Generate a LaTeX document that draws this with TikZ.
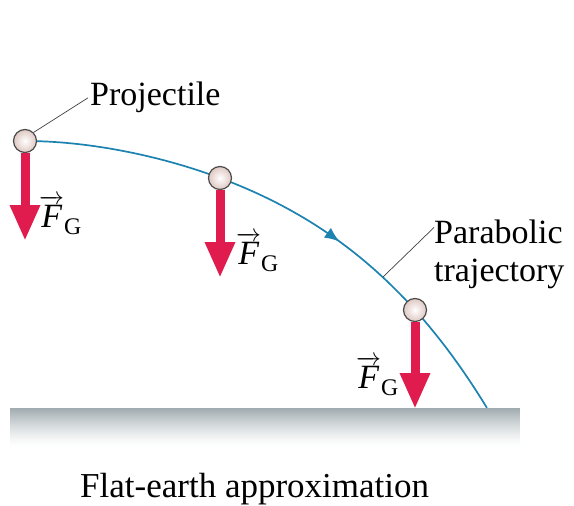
\documentclass[tikz,border=0pt]{standalone}
\usepackage{amsmath}
\usepackage{fontspec}
\setmainfont{Liberation Serif}
\usepackage{tikz}
\usetikzlibrary{arrows.meta}
\usetikzlibrary{positioning}
\usetikzlibrary{backgrounds}
\usetikzlibrary{decorations.markings}
\definecolor{azul}{RGB}{28,130,175}
\definecolor{vermelho}{RGB}{224,28,78}
\definecolor{bege}{RGB}{222,200,194}
\definecolor{chao}{RGB}{160,171,175}
\tikzset{
  bola/.style={circle, draw=black!70, line width=1.2pt, inner sep=0pt, minimum size=23pt, inner color=white, outer color=bege},
  forca/.style={draw=vermelho, line width=9pt, -{Triangle[length=36pt, width=28pt]}},
  rotulo/.style={inner sep=0pt, font=\fontsize{34}{38}\selectfont},
  guia/.style={draw=black!75, line width=0.7pt},
}
\newcommand{\FG}{$\overrightarrow{\textit{F}}_{\text{G}}$}

\begin{document}
\begin{tikzpicture}[x=1pt, y=-1pt]
  \useasboundingbox (0,0) rectangle (574,506);
  % chao (faixas em degrade)
  \foreach \i in {0,...,39} {
    \pgfmathsetmacro{\c}{100*(1-\i/39)^1.4}
    \fill[chao!\c!white] (10,408+\i) rectangle (520,409.4+\i);
  }
  \node[rotulo, font=\fontsize{35}{40}\selectfont, anchor=base west] (flat) at (80,497) {Flat-earth approximation};
  % projeteis
  \node[bola] (b1) at (25,141) {};
  \node[bola] (b2) at (220,178) {};
  \node[bola] (b3) at (415,310) {};
  \coordinate (p1) at (25,241);
  \coordinate (p2) at (220,278);
  \coordinate (p3) at (415,409);
  \draw[forca] (b1.south) -- (p1);
  \draw[forca] (b2.south) -- (p2);
  \draw[forca] (b3.south) -- (p3);
  \node[rotulo, anchor=base west] (f1) at (39,227) {\FG};
  \node[rotulo, anchor=base west] (f2) at (236,264) {\FG};
  \node[rotulo, anchor=base east] (f3) at (399,388) {\FG};
  % trajetoria (u = dx/100)
  \coordinate (t) at (383,277);
  \begin{scope}[on background layer]
    \draw[azul, line width=1.7pt, postaction={decorate},
      decoration={markings, mark=at position 0.6 with {\arrow{Latex[length=15pt, width=12pt]}}}]
      plot[domain=0:4.62, samples=80, variable=\u]
      ({25+100*\u}, {141 + 11.863*\u*\u - 1.995*\u*\u*\u + 0.462*\u*\u*\u*\u});
  \end{scope}
  % rotulos
  \node[rotulo, anchor=base west] (proj) at (90,105) {Projectile};
  \node[rotulo, anchor=base west, align=left] (traj) at (434,281) {Parabolic\\trajectory};
  \draw[guia] (b1.45) -- ([xshift=-2pt, yshift=-1pt]proj.west);
  \draw[guia] (t) -- (traj.158);
\end{tikzpicture}
\end{document}
